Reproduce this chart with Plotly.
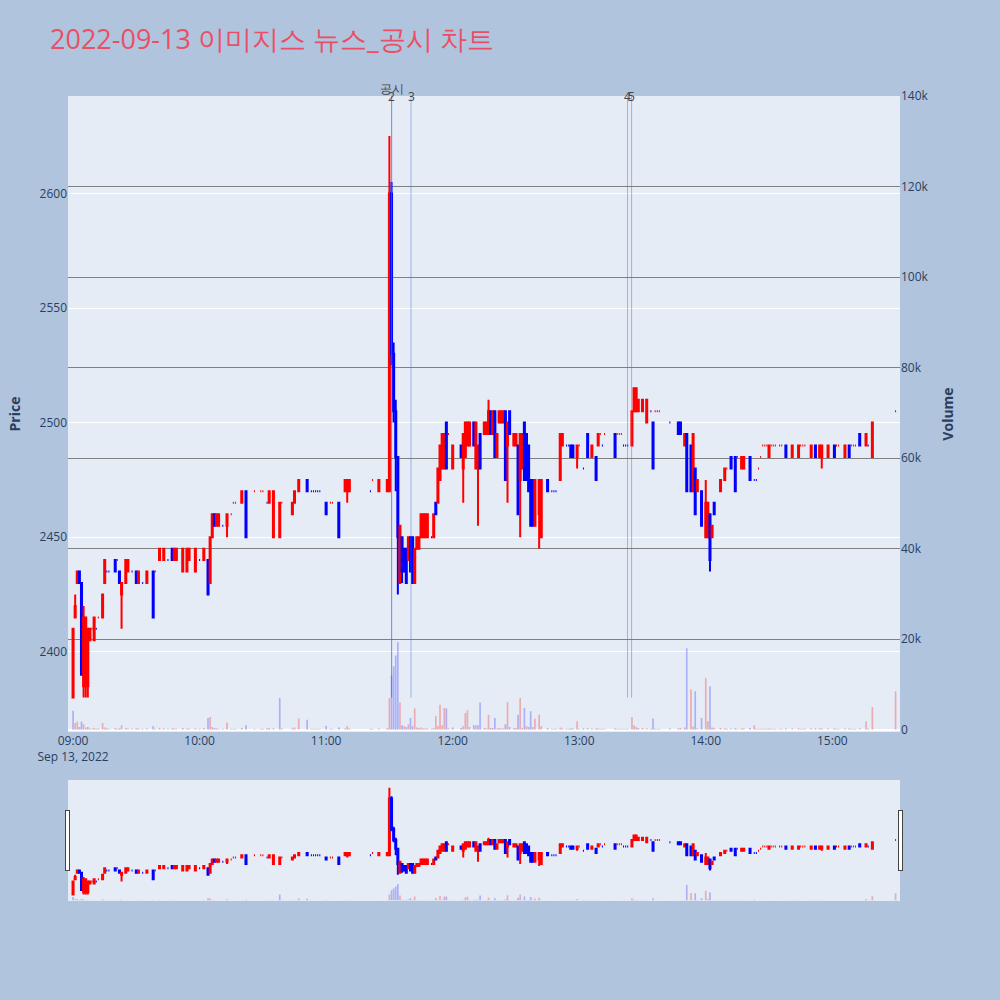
import plotly.graph_objects as go
from plotly.subplots import make_subplots

DATE = "2022-09-13"
TITLE = "2022-09-13 이미지스 뉴스_공시 차트"
PREV_CLOSE = 2415

times = ["09:00","09:01","09:02","09:03","09:04","09:05","09:06","09:07","09:08","09:09",
         "09:10","09:11","09:12","09:14","09:15","09:16","09:17","09:20","09:21","09:22",
         "09:23","09:25","09:26","09:28","09:30","09:31","09:33","09:35","09:38","09:39",
         "09:41","09:43","09:45","09:47","09:48","09:49","09:52","09:54","09:55","09:58",
         "10:00","10:02","10:04","10:05","10:06","10:07","10:08","10:09","10:11","10:13",
         "10:15","10:16","10:17","10:20","10:22","10:26","10:29","10:30","10:32","10:33",
         "10:35","10:38","10:39","10:44","10:45","10:47","10:51","10:53","10:54","10:55",
         "10:56","10:57","11:00","11:02","11:03","11:06","11:09","11:10","11:11","11:21",
         "11:22","11:25","11:29","11:30","11:31","11:32","11:33","11:34","11:35","11:36",
         "11:37","11:38","11:39","11:40","11:41","11:42","11:43","11:44","11:45","11:46",
         "11:47","11:48","11:50","11:51","11:52","11:53","11:54","11:55","11:56","11:57",
         "11:58","12:00","12:04","12:05","12:06","12:07","12:08","12:10","12:11","12:12",
         "12:13","12:15","12:16","12:17","12:18","12:19","12:20","12:21","12:22","12:23",
         "12:24","12:25","12:26","12:27","12:29","12:30","12:31","12:32","12:33","12:34",
         "12:35","12:36","12:37","12:38","12:39","12:41","12:42","12:45","12:47","12:48",
         "12:49","12:51","12:52","12:54","12:55","12:56","12:57","12:59","13:00","13:02",
         "13:04","13:06","13:08","13:09","13:10","13:11","13:12","13:17","13:18","13:19",
         "13:20","13:21","13:22","13:23","13:25","13:26","13:27","13:28","13:30","13:32",
         "13:34","13:35","13:36","13:37","13:38","13:43","13:47","13:48","13:50","13:51",
         "13:53","13:54","13:55","13:56","13:58","14:00","14:01","14:02","14:03","14:04",
         "14:07","14:09","14:10","14:12","14:14","14:15","14:17","14:18","14:21","14:23",
         "14:24","14:25","14:26","14:27","14:28","14:29","14:30","14:31","14:32","14:33",
         "14:35","14:36","14:38","14:41","14:44","14:45","14:46","14:47","14:50","14:52",
         "14:54","14:55","14:58","15:01","15:02","15:03","15:06","15:08","15:09","15:10",
         "15:11","15:13","15:16","15:17","15:19","15:30"]

opens = [2380,2415,2430,2435,2430,2385,2385,2385,2405,2410,
         2405,2410,2415,2415,2430,2435,2435,2440,2440,2435,
         2425,2430,2435,2435,2435,2430,2430,2430,2435,2435,
         2440,2440,2440,2445,2440,2440,2435,2435,2440,2435,
         2440,2440,2440,2430,2450,2460,2455,2455,2455,2455,
         2460,2465,2465,2465,2470,2470,2470,2470,2465,2465,
         2450,2450,2465,2460,2465,2470,2475,2470,2470,2470,
         2470,2470,2465,2465,2465,2465,2470,2470,2470,2470,
         2475,2470,2470,2470,2600,2530,2505,2485,2430,2450,
         2445,2445,2440,2450,2450,2430,2445,2445,2450,2450,
         2450,2450,2450,2450,2465,2465,2475,2480,2480,2500,
         2495,2480,2490,2480,2485,2490,2490,2500,2480,2480,
         2495,2495,2495,2495,2505,2495,2505,2485,2500,2500,
         2500,2505,2490,2505,2490,2490,2490,2475,2480,2500,
         2495,2490,2475,2475,2455,2460,2450,2475,2470,2470,
         2470,2475,2490,2490,2490,2490,2490,2485,2490,2480,
         2495,2485,2485,2490,2495,2490,2495,2495,2495,2495,
         2495,2490,2490,2490,2490,2505,2505,2505,2505,2500,
         2505,2500,2505,2505,2505,2500,2500,2500,2490,2495,
         2490,2470,2480,2470,2470,2450,2450,2460,2450,2465,
         2470,2475,2480,2485,2485,2485,2480,2480,2485,2475,
         2475,2480,2485,2490,2490,2490,2485,2490,2490,2490,
         2490,2490,2490,2485,2485,2490,2490,2490,2485,2490,
         2485,2485,2485,2490,2490,2490,2485,2490,2490,2490,
         2490,2495,2490,2490,2485,2505]

highs = [2410,2425,2435,2435,2430,2420,2415,2410,2410,2410,
         2415,2410,2415,2425,2440,2435,2435,2440,2440,2435,
         2430,2440,2440,2435,2435,2435,2430,2435,2435,2435,
         2445,2445,2440,2445,2445,2445,2445,2445,2445,2445,
         2440,2445,2440,2450,2460,2460,2460,2460,2455,2460,
         2460,2465,2465,2470,2470,2470,2470,2470,2465,2470,
         2470,2465,2465,2465,2470,2475,2475,2470,2470,2470,
         2470,2470,2465,2465,2465,2465,2475,2475,2475,2470,
         2475,2475,2475,2625,2605,2535,2510,2485,2455,2450,
         2445,2445,2450,2450,2450,2445,2450,2450,2460,2460,
         2460,2460,2450,2460,2465,2480,2490,2495,2495,2500,
         2495,2490,2490,2495,2500,2500,2500,2500,2500,2490,
         2495,2500,2500,2510,2505,2505,2505,2495,2505,2505,
         2505,2505,2500,2505,2495,2495,2490,2495,2495,2500,
         2495,2490,2475,2475,2475,2475,2475,2475,2470,2470,
         2470,2495,2495,2490,2490,2490,2490,2490,2490,2480,
         2495,2490,2485,2495,2495,2490,2495,2495,2495,2495,
         2495,2490,2490,2490,2505,2515,2515,2510,2510,2510,
         2505,2500,2505,2505,2505,2500,2500,2500,2495,2495,
         2490,2495,2480,2475,2470,2475,2465,2460,2455,2465,
         2475,2480,2480,2485,2485,2485,2485,2485,2485,2475,
         2475,2480,2485,2490,2490,2490,2490,2490,2490,2490,
         2490,2490,2490,2490,2490,2490,2490,2490,2490,2490,
         2490,2490,2490,2490,2490,2490,2490,2490,2490,2490,
         2490,2495,2495,2490,2500,2505]

lows = [2380,2415,2430,2430,2390,2380,2380,2380,2405,2410,
        2405,2410,2415,2415,2430,2435,2435,2435,2440,2430,
        2410,2430,2435,2435,2430,2430,2430,2430,2415,2435,
        2440,2440,2440,2440,2440,2440,2435,2435,2440,2435,
        2440,2440,2425,2430,2450,2455,2455,2455,2455,2450,
        2460,2465,2465,2465,2450,2470,2470,2470,2465,2465,
        2450,2450,2465,2460,2465,2470,2470,2470,2470,2470,
        2470,2470,2460,2465,2465,2450,2470,2465,2470,2470,
        2475,2470,2470,2470,2525,2500,2470,2425,2430,2430,
        2435,2430,2440,2435,2430,2430,2445,2445,2450,2450,
        2450,2450,2450,2450,2460,2465,2475,2480,2480,2480,
        2495,2480,2485,2465,2485,2490,2490,2490,2480,2455,
        2480,2495,2495,2495,2495,2495,2485,2485,2500,2500,
        2500,2475,2465,2495,2490,2490,2460,2450,2480,2475,
        2475,2470,2455,2455,2455,2445,2450,2470,2470,2470,
        2470,2475,2490,2490,2490,2485,2485,2480,2490,2480,
        2485,2485,2475,2490,2495,2490,2495,2485,2495,2495,
        2495,2490,2490,2490,2490,2505,2505,2505,2505,2500,
        2505,2480,2505,2505,2505,2500,2495,2495,2490,2470,
        2470,2470,2460,2470,2455,2450,2450,2435,2450,2460,
        2470,2475,2480,2480,2470,2485,2480,2480,2475,2475,
        2475,2480,2485,2490,2490,2490,2485,2490,2490,2490,
        2490,2490,2485,2485,2485,2490,2490,2490,2485,2485,
        2485,2480,2485,2485,2490,2490,2485,2485,2490,2490,
        2490,2490,2490,2490,2485,2505]

closes = [2410,2420,2435,2430,2390,2415,2415,2410,2410,2410,
          2415,2410,2415,2425,2440,2435,2435,2435,2440,2430,
          2430,2440,2440,2435,2430,2435,2430,2435,2415,2435,
          2445,2445,2440,2440,2445,2445,2445,2445,2445,2445,
          2440,2445,2425,2450,2460,2455,2460,2460,2455,2460,
          2460,2465,2465,2470,2450,2470,2470,2470,2465,2470,
          2470,2465,2465,2465,2470,2475,2470,2470,2470,2470,
          2470,2470,2460,2465,2465,2450,2475,2475,2475,2470,
          2475,2475,2475,2600,2530,2505,2485,2450,2455,2435,
          2435,2430,2450,2435,2430,2445,2450,2450,2460,2460,
          2460,2460,2450,2460,2460,2480,2490,2495,2495,2480,
          2495,2490,2485,2495,2500,2500,2500,2490,2500,2490,
          2480,2500,2500,2505,2495,2505,2485,2495,2505,2505,
          2505,2475,2500,2495,2495,2495,2460,2495,2495,2475,
          2475,2470,2455,2455,2475,2475,2475,2470,2470,2470,
          2470,2495,2495,2490,2490,2485,2485,2490,2490,2480,
          2485,2490,2475,2495,2495,2490,2495,2485,2495,2495,
          2495,2490,2490,2490,2505,2515,2515,2510,2510,2510,
          2505,2480,2505,2505,2505,2500,2495,2495,2495,2470,
          2470,2495,2460,2475,2455,2465,2465,2440,2455,2460,
          2475,2480,2480,2480,2470,2485,2485,2485,2475,2475,
          2475,2480,2485,2490,2490,2490,2490,2490,2490,2490,
          2490,2490,2485,2490,2490,2490,2490,2490,2490,2485,
          2490,2490,2490,2485,2490,2490,2490,2485,2490,2490,
          2490,2490,2495,2490,2500,2505]

volumes = [4200,1500,1800,600,1800,1200,500,600,300,200,
           400,200,300,1500,500,300,200,400,200,300,
           1000,400,300,200,300,300,200,300,800,200,
           400,300,200,300,300,200,400,300,200,300,
           200,400,2600,2800,600,400,300,200,200,1600,
           200,200,200,400,1000,200,200,200,300,400,
           300,7000,300,300,500,2500,2200,200,200,200,
           200,200,800,200,200,500,300,800,300,200,
           200,300,400,7000,12000,14000,16400,19300,6000,1000,
           800,600,1200,2600,800,4700,500,400,500,300,
           300,300,200,400,3000,800,5500,1000,4800,4700,
           300,500,400,800,3700,4300,600,1000,1000,1000,
           6000,400,300,3300,400,400,2600,300,400,300,
           300,1200,6100,600,400,400,3300,7000,400,4800,
           800,600,4100,600,2400,3300,800,400,200,200,
           200,500,300,200,200,300,300,1900,200,300,
           400,300,300,300,200,200,200,300,200,200,
           200,200,200,200,2800,1000,600,400,400,300,
           200,2500,200,200,200,300,300,400,500,18000,
           8900,700,8500,300,2600,11400,1900,9600,500,400,
           400,300,200,300,300,200,300,300,400,1000,
           200,200,200,200,200,200,300,200,200,200,
           200,200,300,300,300,200,200,200,300,300,
           300,300,300,300,200,200,300,300,200,200,
           200,300,1900,200,5000,8500]

news_times = ["11:31:00", "11:31:05", "11:40:15", "13:22:55", "13:24:50"]
news_labels = ["공시", "2", "3", "4", "5"]

x = [f"{DATE} {t}" for t in times]

vol_colors = []
prev = PREV_CLOSE
for c in closes:
    vol_colors.append("rgba(255,0,0,0.28)" if c >= prev else "rgba(0,0,255,0.25)")
    prev = c

fig = make_subplots(specs=[[{"secondary_y": True}]])

fig.add_trace(go.Candlestick(
    x=x, open=opens, high=highs, low=lows, close=closes,
    increasing=dict(line=dict(color="red", width=2), fillcolor="red"),
    decreasing=dict(line=dict(color="blue", width=2), fillcolor="blue"),
    showlegend=False, name="Price"), secondary_y=False)

fig.add_trace(go.Bar(
    x=x, y=volumes, marker=dict(color=vol_colors, line=dict(width=0)),
    showlegend=False, name="Volume"), secondary_y=True)

low_day = min(lows)
for i, (nt, lab) in enumerate(zip(news_times, news_labels)):
    xt = f"{DATE} {nt}"
    fig.add_shape(type="line", x0=xt, x1=xt, y0=low_day, y1=2642.5,
                  xref="x", yref="y", line=dict(color="rgba(65,105,225,0.45)", width=1))
    fig.add_annotation(x=xt, y=1, xref="x", yref="paper", text=lab, showarrow=False,
                       yanchor="middle", yshift=8 if i == 0 else 0,
                       font=dict(size=12, color="#444"))

fig.update_layout(
    width=1000, height=1000,
    paper_bgcolor="#B0C4DE", plot_bgcolor="#E5ECF6",
    title=dict(text=TITLE, x=0.05, xanchor="left", y=0.96, yanchor="middle",
               font=dict(size=27, color="#EA4F66")),
    margin=dict(l=68, r=100, t=96, b=100),
    showlegend=False, bargap=0.2,
)
fig.update_xaxes(
    domain=[0, 1],
    range=[f"{DATE} 08:57:36", f"{DATE} 15:32:06"],
    showgrid=False,
    rangeslider=dict(visible=True, bgcolor="#E5ECF6",
                     range=[f"{DATE} 08:57:36", f"{DATE} 15:32:06"]),
)
fig.update_yaxes(title_text="<b>Price</b>", range=[2365, 2642.5], gridcolor="white",
                 automargin=False, secondary_y=False)
fig.update_yaxes(title_text="<b>Volume</b>", range=[-500, 140000], gridcolor="gray",
                 showgrid=True, automargin=False, secondary_y=True)

fig.write_html("out.html", config={"displayModeBar": False},
               post_script="document.body.style.margin='0px';")
